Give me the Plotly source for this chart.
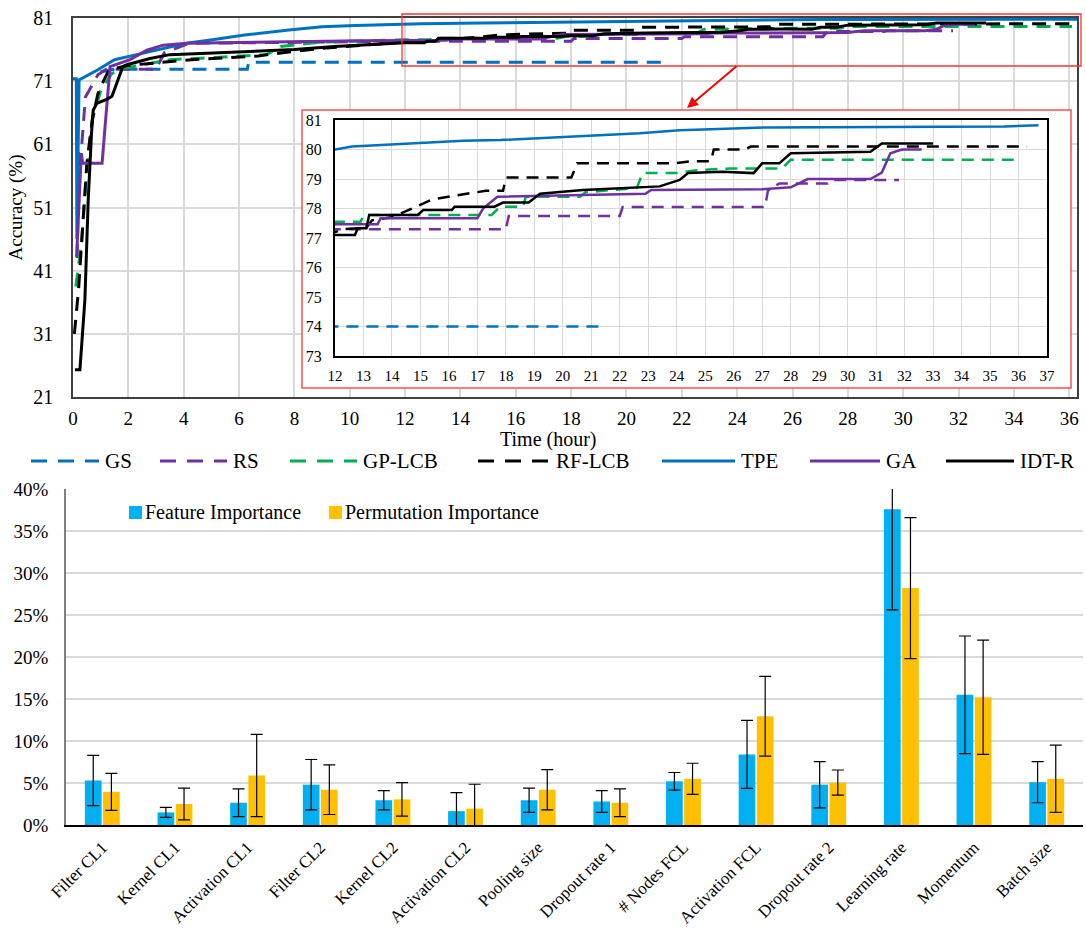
import plotly.graph_objects as go

W, H = 1086, 934

# ---------------- accuracy curves (time in hours, best accuracy in %) ----------------
gs_time = [1.0, 1.5, 6.3, 6.35, 21.3]
gs_acc = [72.5, 72.9, 72.9, 74.0, 74.0]

rs_time = [0.15, 0.22, 0.3, 0.45, 0.9, 1.2, 3.0, 3.3, 4.2, 8.0, 12.0, 18.0, 18.1, 22.0, 22.1, 27.1, 27.2, 27.6, 29.3, 29.4, 31.8]
rs_acc = [43.0, 59.6, 60.0, 68.5, 72.0, 72.9, 72.9, 75.5, 77.0, 77.2, 77.3, 77.3, 77.75, 77.75, 78.05, 78.05, 78.6, 78.85, 78.85, 78.97, 78.97]

gp_time = [0.1, 0.3, 0.5, 0.7, 1.0, 1.4, 1.8, 2.5, 3.5, 5.3, 7.0, 7.5, 9.0, 12.0, 12.9, 13.0, 17.5, 17.8, 18.6, 18.7, 20.6, 20.8, 22.6, 22.8, 24.0, 24.7, 25.9, 27.7, 28.0, 36.1]
gp_acc = [38.5, 45.0, 57.0, 65.0, 69.5, 72.2, 73.0, 73.6, 74.4, 74.8, 75.2, 76.5, 77.2, 77.55, 77.55, 77.78, 77.78, 78.06, 78.06, 78.4, 78.4, 78.55, 78.7, 79.2, 79.2, 79.3, 79.36, 79.36, 79.65, 79.65]

rf_time = [0.05, 0.2, 0.35, 0.5, 0.7, 0.9, 1.1, 1.3, 2.0, 4.3, 6.7, 7.2, 9.0, 11.0, 12.0, 12.3, 13.1, 13.3, 14.0, 14.6, 15.4, 16.3, 17.3, 17.9, 18.0, 20.3, 20.5, 23.9, 24.5, 25.2, 25.3, 26.4, 26.6, 36.3]
rf_acc = [31.0, 38.0, 48.0, 58.0, 65.0, 69.0, 71.0, 72.8, 73.5, 74.4, 75.0, 75.3, 76.2, 76.9, 77.2, 77.3, 77.35, 77.6, 77.7, 77.95, 78.3, 78.45, 78.6, 78.6, 79.05, 79.05, 79.53, 79.53, 79.6, 79.6, 80.0, 80.0, 80.1, 80.1]

tpe_time = [0.0, 0.12, 0.14, 0.22, 0.9, 1.5, 2.5, 4.1, 5.1, 6.2, 7.8, 9.0, 10.2, 12.0, 12.6, 14.8, 16.5, 17.8, 20.9, 22.7, 24.1, 27.1, 35.5, 36.7]
tpe_acc = [71.4, 71.4, 46.0, 71.2, 72.8, 74.4, 75.4, 77.0, 77.6, 78.3, 79.1, 79.6, 79.8, 80.0, 80.1, 80.2, 80.3, 80.32, 80.45, 80.55, 80.65, 80.75, 80.78, 80.82]

ga_time = [0.13, 0.3, 0.35, 1.05, 1.2, 1.34, 2.06, 2.67, 3.26, 4.1, 10.4, 12.0, 13.5, 13.6, 17.0, 17.2, 17.7, 22.9, 23.1, 27.0, 28.0, 28.6, 30.8, 31.2, 31.5, 31.9, 32.6]
ga_acc = [43.2, 59.6, 58.0, 58.0, 66.0, 73.3, 74.4, 75.9, 76.7, 77.0, 77.4, 77.47, 77.47, 77.67, 77.67, 78.0, 78.4, 78.5, 78.63, 78.65, 78.72, 79.0, 79.0, 79.22, 79.87, 80.0, 80.0]

idt_time = [0.07, 0.25, 0.43, 0.55, 0.67, 0.73, 0.86, 1.22, 1.41, 1.58, 1.8, 1.95, 2.78, 3.5, 6.0, 8.0, 9.45, 11.6, 12.0, 12.7, 12.8, 13.1, 13.2, 14.9, 15.1, 16.1, 16.2, 17.6, 17.9, 18.8, 19.2, 20.7, 22.2, 23.4, 24.1, 24.4, 25.6, 26.7, 27.0, 27.6, 28.0, 30.8, 31.2, 33.0]
idt_acc = [25.3, 25.3, 36.4, 52.2, 62.8, 66.4, 67.5, 68.1, 68.6, 70.7, 73.3, 73.6, 74.6, 75.2, 75.7, 76.0, 76.5, 77.0, 77.1, 77.1, 77.33, 77.33, 77.78, 77.78, 77.95, 77.95, 78.06, 78.06, 78.2, 78.2, 78.5, 78.63, 78.7, 78.75, 78.97, 79.2, 79.25, 79.2, 79.53, 79.53, 79.87, 79.92, 80.2, 80.2]

main_time_ticks = list(range(0, 37, 2))
main_acc_ticks = [21, 31, 41, 51, 61, 71, 81]
inset_time_ticks = list(range(12, 38))
inset_acc_ticks = list(range(73, 82))

# ---------------- importance bars (%) ----------------
categories = ["Filter CL1", "Kernel CL1", "Activation CL1", "Filter CL2", "Kernel CL2",
              "Activation CL2", "Pooling size", "Dropout rate 1", "# Nodes FCL",
              "Activation FCL", "Dropout rate 2", "Learning rate", "Momentum", "Batch size"]
feature_imp = [5.3, 1.5, 2.65, 4.8, 2.95, 1.65, 2.95, 2.8, 5.2, 8.4, 4.8, 37.6, 15.5, 5.1]
feature_err = [3.0, 0.6, 1.65, 3.0, 1.15, 2.2, 1.45, 1.3, 1.05, 4.05, 2.75, 12.0, 7.0, 2.45]
perm_imp = [3.95, 2.5, 5.9, 4.2, 3.05, 1.95, 4.2, 2.65, 5.5, 12.95, 5.05, 28.2, 15.2, 5.5]
perm_err = [2.2, 1.9, 4.9, 2.95, 2.0, 2.9, 2.4, 1.65, 1.85, 4.75, 1.5, 8.4, 6.8, 4.0]
pct_ticks = list(range(0, 41, 5))
pct_labels = [f"{v}%" for v in pct_ticks]

# ---------------- helpers ----------------
def X(p):
    return p / W

def Y(p):
    return 1 - p / H

FONT = "Liberation Serif"
BLUE, PURPLE, GREEN, BLACK = "#0070C0", "#7030A0", "#00B050", "#000000"
GRID = "#D9D9D9"

MAIN_L, MAIN_R, MAIN_T, MAIN_B = 73, 1077, 18, 397
T_MAX = 36.28

def t_of(px):
    return (px - MAIN_L) / (MAIN_R - MAIN_L) * T_MAX

def acc_of(py):
    return 81 - (py - MAIN_T) / (MAIN_B - MAIN_T) * 60

series = [
    ("GS", gs_time, gs_acc, BLUE, True),
    ("RS", rs_time, rs_acc, PURPLE, True),
    ("GP-LCB", gp_time, gp_acc, GREEN, True),
    ("RF-LCB", rf_time, rf_acc, BLACK, True),
    ("TPE", tpe_time, tpe_acc, BLUE, False),
    ("GA", ga_time, ga_acc, PURPLE, False),
    ("IDT-R", idt_time, idt_acc, BLACK, False),
]

fig = go.Figure()

for name, t, a, c, dashed in series:
    fig.add_trace(go.Scatter(x=t, y=a, mode="lines", name=name, xaxis="x", yaxis="y",
                             line=dict(color=c, width=3, dash="14px,9px" if dashed else "solid"),
                             showlegend=False))
for name, t, a, c, dashed in series:
    fig.add_trace(go.Scatter(x=t, y=a, mode="lines", name=name, xaxis="x2", yaxis="y2",
                             line=dict(color=c, width=2.5, dash="12px,8px" if dashed else "solid"),
                             showlegend=False))

fig.add_trace(go.Bar(x=categories, y=feature_imp, name="Feature Importance",
                     marker=dict(color="#00B0F0", line=dict(width=0)),
                     error_y=dict(type="data", array=feature_err, color="black", thickness=1.2, width=6),
                     xaxis="x3", yaxis="y3", showlegend=False))
fig.add_trace(go.Bar(x=categories, y=perm_imp, name="Permutation Importance",
                     marker=dict(color="#FFC000", line=dict(width=0)),
                     error_y=dict(type="data", array=perm_err, color="black", thickness=1.2, width=6),
                     xaxis="x3", yaxis="y3", showlegend=False))

shapes = []
annotations = []

# white inset background with red frame (on top of main grid, below inset)
shapes.append(dict(type="rect", xref="x", yref="y", x0=t_of(302), x1=t_of(1071),
                   y0=acc_of(388), y1=acc_of(110), fillcolor="white",
                   line=dict(color="#FF5050", width=1.5), layer="between"))
# zoom region rectangle
shapes.append(dict(type="rect", xref="paper", yref="paper", x0=X(402), x1=X(1081),
                   y0=Y(66), y1=Y(14), line=dict(color="#FF3030", width=1.3), layer="above"))
annotations.append(dict(xref="paper", yref="paper", x=X(687), y=Y(108), ax=51, ay=-43,
                        showarrow=True, arrowhead=2, arrowsize=1.1, arrowwidth=2,
                        arrowcolor="#FF0000", text=""))

# x title of top chart
annotations.append(dict(xref="paper", yref="paper", x=X(548), y=Y(439), text="Time (hour)",
                        showarrow=False, font=dict(family=FONT, size=20, color="black"),
                        xanchor="center", yanchor="middle"))

# line legend row
leg_y = 461
leg_pos = {"GS": (31, 99), "RS": (160, 227), "GP-LCB": (290, 357), "RF-LCB": (478, 550),
           "TPE": (662, 735), "GA": (810, 880), "IDT-R": (946, 1014)}
for name, t, a, c, dashed in series:
    x0, x1 = leg_pos[name]
    shapes.append(dict(type="line", xref="paper", yref="paper", x0=X(x0), x1=X(x1),
                       y0=Y(leg_y), y1=Y(leg_y),
                       line=dict(color=c, width=3, dash="16px,11px" if dashed else "solid")))
    annotations.append(dict(xref="paper", yref="paper", x=X(x1 + 4), y=Y(leg_y), text=name,
                            showarrow=False, xanchor="left", yanchor="middle",
                            font=dict(family=FONT, size=21, color="black")))

# bar legend
for label, col, sx in [("Feature Importance", "#00B0F0", 129), ("Permutation Importance", "#FFC000", 329)]:
    shapes.append(dict(type="rect", xref="paper", yref="paper", x0=X(sx), x1=X(sx + 13),
                       y0=Y(519), y1=Y(506), fillcolor=col, line=dict(width=0), layer="above"))
    annotations.append(dict(xref="paper", yref="paper", x=X(sx + 14), y=Y(512), text=label,
                            showarrow=False, xanchor="left", yanchor="middle",
                            font=dict(family=FONT, size=20, color="black")))

axis_font = dict(family=FONT, size=19, color="black")

fig.update_layout(
    width=W, height=H,
    margin=dict(l=0, r=0, t=0, b=0),
    paper_bgcolor="white", plot_bgcolor="white",
    font=dict(family=FONT, color="black"),
    barmode="group", bargap=0.5, bargroupgap=0.08,
    xaxis=dict(domain=[X(MAIN_L), X(MAIN_R)], range=[0, T_MAX], tickvals=main_time_ticks,
               showgrid=True, gridcolor=GRID, gridwidth=1.5, zeroline=False,
               showline=True, mirror=True, linecolor="#404040", linewidth=1.5,
               ticks="", tickfont=axis_font, ticklabelstandoff=3, anchor="y", automargin=False),
    yaxis=dict(domain=[Y(MAIN_B), Y(MAIN_T)], range=[21, 81], tickvals=main_acc_ticks,
               showgrid=True, gridcolor=GRID, gridwidth=1.5, zeroline=False,
               showline=True, mirror=True, linecolor="#404040", linewidth=1.5,
               ticks="", tickfont=dict(family=FONT, size=20, color="black"), ticklabelstandoff=14,
               title=dict(text="Accuracy (%)", font=dict(family=FONT, size=19, color="black"), standoff=6),
               anchor="x", automargin=False),
    xaxis2=dict(domain=[X(335), X(1047)], range=[12, 37], tickvals=inset_time_ticks,
                showgrid=True, gridcolor=GRID, gridwidth=1.3, zeroline=False,
                showline=True, mirror=True, linecolor="black", linewidth=2,
                ticks="", tickfont=dict(family=FONT, size=15, color="black"), ticklabelstandoff=5,
                anchor="y2", automargin=False),
    yaxis2=dict(domain=[Y(356), Y(120)], range=[73, 81], tickvals=inset_acc_ticks,
                showgrid=True, gridcolor=GRID, gridwidth=1.3, zeroline=False,
                showline=True, mirror=True, linecolor="black", linewidth=2,
                ticks="", tickfont=dict(family=FONT, size=16, color="black"), ticklabelstandoff=8,
                anchor="x2", automargin=False),
    xaxis3=dict(domain=[X(66), X(1083)], type="category", tickangle=-45,
                showgrid=False, showline=True, linecolor="black", linewidth=1.5,
                ticks="", tickfont=dict(family=FONT, size=17, color="black"), ticklabelstandoff=4,
                anchor="y3", automargin=False),
    yaxis3=dict(domain=[Y(825), Y(489)], range=[0, 40], tickmode="array",
                tickvals=pct_ticks, ticktext=pct_labels,
                showgrid=True, gridcolor=GRID, gridwidth=2, zeroline=False,
                showline=True, linecolor="#7F7F7F", linewidth=1.5,
                ticks="", tickfont=axis_font, ticklabelstandoff=12,
                anchor="x3", automargin=False),
    shapes=shapes,
    annotations=annotations,
)

fig.write_html("out.html", config={"displayModeBar": False},
               post_script="document.body.style.margin='0px';")
